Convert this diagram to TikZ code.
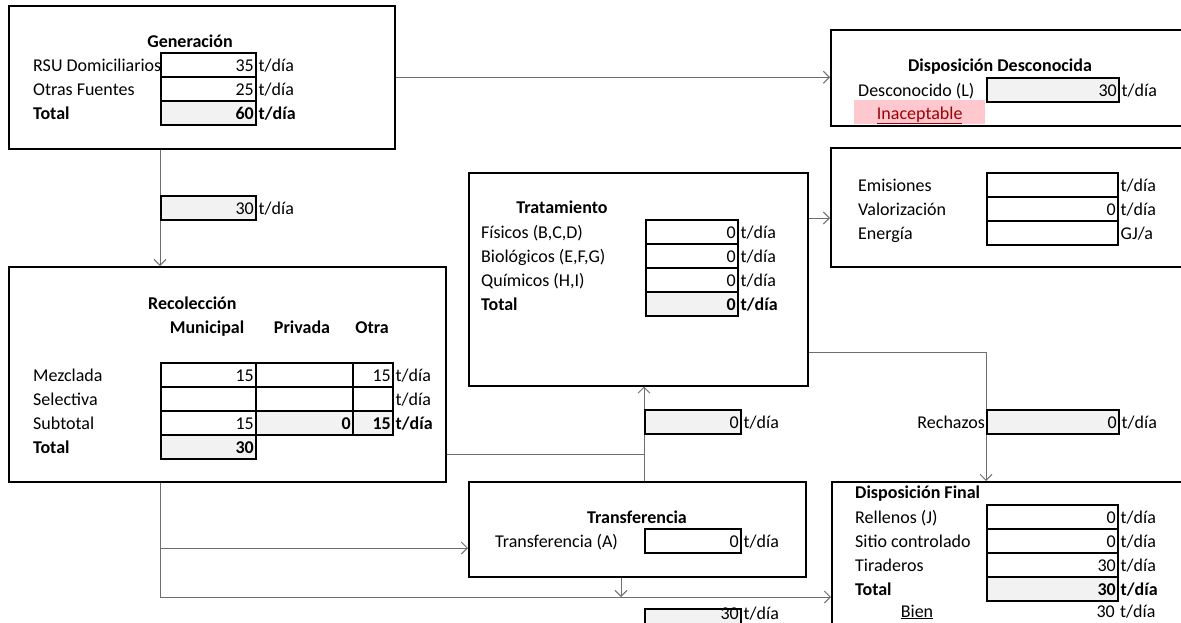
\documentclass[tikz,border=0pt]{standalone}
\usepackage{fontspec}
\setmainfont{Carlito}
\usetikzlibrary{arrows.meta,positioning}
\definecolor{cellgray}{RGB}{242,242,242}
\definecolor{badfill}{RGB}{255,199,206}
\definecolor{badtext}{RGB}{156,0,6}
\definecolor{flowgray}{RGB}{110,110,110}
\tikzset{
  panel/.style = {draw,line width=1.5pt,anchor=north west,inner sep=0pt},
  cell/.style  = {draw,line width=1.5pt,fill=white,anchor=north west,
                  minimum height=24pt,inner xsep=2pt,inner ysep=0pt,align=right},
  gcell/.style = {cell,fill=cellgray},
  lbl/.style   = {anchor=west,inner sep=0pt},
  unit/.style  = {inner sep=0pt},
  ttl/.style   = {font=\bfseries,inner sep=0pt},
  flow/.style  = {draw=flowgray,line width=0.9pt,-{Straight Barb[length=6pt,width=12pt]}},
  link/.style  = {draw=flowgray,line width=0.9pt},
}

\begin{document}
\fontsize{18}{21}\selectfont
\begin{tikzpicture}[x=1pt,y=-1pt,every node/.append style={text height=16pt,text depth=2pt}]
  \useasboundingbox (0,0) rectangle (1181,622);
  \clip (0,0) rectangle (1181,622);

  % boxes
  \node[panel,minimum width=386pt,minimum height=143pt] (gen) at (8,5) {};
  \node[panel,minimum width=370pt,minimum height=96pt] (desc) at (830,29) {};
  \node[panel,minimum width=370pt,minimum height=119pt] (emis) at (830,147) {};
  \node[panel,minimum width=339pt,minimum height=213pt] (trat) at (468,172) {};
  \node[panel,minimum width=437pt,minimum height=215pt] (reco) at (8,266) {};
  \node[panel,minimum width=337pt,minimum height=95pt] (transf) at (468,481) {};
  \node[panel,minimum width=370pt,minimum height=160pt] (final) at (831,481) {};

  % connectors
  \coordinate (spine) at (160,0);
  \coordinate (bus) at (0,597);
  \coordinate (branch) at (160,548);
  \coordinate (drop) at (621,597);
  \coordinate (rise) at (644,454);
  \coordinate (emisin) at (0,218);
  \coordinate (rej) at (986,352);
  \draw[flow] (gen.east) -- (gen.east -| desc.west);
  \draw[flow] (gen.south -| spine) -- (reco.north -| spine);
  \draw[flow] (reco.south -| spine) |- (final.west |- bus);
  \draw[flow] (branch) -- (transf.west |- branch);
  \draw[flow] (transf.south -| drop) -- (drop);
  \draw[link] (reco.east |- rise) -- (rise);
  \draw[flow] (transf.north -| rise) -- (trat.south -| rise);
  \draw[flow] (trat.east |- emisin) -- (emis.west |- emisin);
  \draw[flow] (trat.east |- rej) -- (rej) -- (final.north -| rej);

  % Generacion
  \node[ttl] at (190,40) {Generación};
  \node[lbl] at (33,64) {RSU Domiciliarios};
  \node[lbl] at (33,88) {Otras Fuentes};
  \node[lbl,font=\bfseries] at (33,112) {Total};
  \node[cell,text width=91pt] (grsu) at (160,52) {35};
  \node[cell,text width=91pt] (gotr) at (160,76) {25};
  \node[gcell,text width=91pt] (gtot) at (160,100) {\bfseries 60};
  \node[unit,right=2pt of grsu] {t/día};
  \node[unit,right=2pt of gotr] {t/día};
  \node[unit,right=2pt of gtot,font=\bfseries] {t/día};

  % flujo a recoleccion
  \node[gcell,text width=91pt] (fgen) at (160,195) {30};
  \node[unit,right=2pt of fgen] {t/día};

  % Disposicion desconocida
  \node[ttl] at (1000,64) {Disposición Desconocida};
  \node[lbl] at (858,89) {Desconocido (L)};
  \node[anchor=north west,fill=badfill,text=badtext,minimum width=131pt,
        minimum height=24pt,inner sep=0pt] (bad) at (854,100) {\underline{Inaceptable}};
  \node[gcell,text width=128pt] (dl) at (986,77) {30};
  \node[unit,right=2pt of dl] {t/día};

  % Emisiones
  \node[lbl] at (858,184) {Emisiones};
  \node[lbl] at (858,208) {Valorización};
  \node[lbl] at (858,232) {Energía};
  \node[cell,text width=127pt] (eem) at (986,172) {};
  \node[cell,text width=127pt] (eva) at (986,196) {0};
  \node[cell,text width=127pt] (een) at (986,220) {};
  \node[unit,right=2pt of eem] {t/día};
  \node[unit,right=2pt of eva] {t/día};
  \node[unit,right=2pt of een] {GJ/a};

  % Tratamiento
  \node[ttl] at (562,206) {Tratamiento};
  \node[lbl] at (481,231) {Físicos (B,C,D)};
  \node[lbl] at (481,255) {Biológicos (E,F,G)};
  \node[lbl] at (481,279) {Químicos (H,I)};
  \node[lbl,font=\bfseries] at (481,303) {Total};
  \node[cell,text width=88pt] (tfi) at (645,219) {0};
  \node[cell,text width=88pt] (tbi) at (645,243) {0};
  \node[cell,text width=88pt] (tqu) at (645,267) {0};
  \node[gcell,text width=88pt] (ttot) at (645,291) {\bfseries 0};
  \node[unit,right=2pt of tfi] {t/día};
  \node[unit,right=2pt of tbi] {t/día};
  \node[unit,right=2pt of tqu] {t/día};
  \node[unit,right=2pt of ttot,font=\bfseries] {t/día};

  % Recoleccion
  \node[ttl,anchor=west] at (148,302) {Recolección};
  \node[ttl] at (207,326) {Municipal};
  \node[ttl] at (302,326) {Privada};
  \node[ttl] at (372,326) {Otra};
  \node[lbl] at (33,374) {Mezclada};
  \node[lbl] at (33,398) {Selectiva};
  \node[lbl] at (33,422) {Subtotal};
  \node[lbl,font=\bfseries] at (33,446) {Total};
  \node[cell,text width=91pt] (rmm) at (160,362) {15};
  \node[cell,text width=93pt] (rmp) at (255,362) {};
  \node[cell,text width=36pt] (rmo) at (352,362) {15};
  \node[cell,text width=91pt] (rsm) at (160,386) {};
  \node[cell,text width=93pt] (rsp) at (255,386) {};
  \node[cell,text width=36pt] (rso) at (352,386) {};
  \node[cell,text width=91pt] (rtm) at (160,410) {15};
  \node[gcell,text width=93pt] (rtp) at (255,410) {\bfseries 0};
  \node[gcell,text width=36pt] (rto) at (352,410) {\bfseries 15};
  \node[gcell,text width=91pt] (rtot) at (160,434) {\bfseries 30};
  \node[unit,right=2pt of rmo] {t/día};
  \node[unit,right=2pt of rso] {t/día};
  \node[unit,right=2pt of rto,font=\bfseries] {t/día};

  % flujo a tratamiento y rechazos
  \node[gcell,text width=92pt] (ftr) at (644,409) {0};
  \node[unit,right=2pt of ftr] {t/día};
  \node[gcell,text width=128pt] (frej) at (986,409) {0};
  \node[unit,right=2pt of frej] {t/día};
  \node[anchor=east,inner sep=0pt] at (985,421) {Rechazos};

  % Transferencia
  \node[ttl] at (637,516) {Transferencia};
  \node[lbl] at (495,540) {Transferencia (A)};
  \node[cell,text width=92pt] (tra) at (644,528) {0};
  \node[unit,right=2pt of tra] {t/día};

  % flujo a disposicion final
  \node[gcell,text width=92pt,text height=11pt,text depth=8pt,minimum height=0pt] (fdis) at (644,608) {30};
  \node[unit,right=2pt of fdis,text height=11pt,text depth=8pt] {t/día};

  % Disposicion final
  \node[ttl,anchor=west] at (855,491) {Disposición Final};
  \node[lbl] at (855,516) {Rellenos (J)};
  \node[lbl] at (855,540) {Sitio controlado};
  \node[lbl] at (855,564) {Tiraderos};
  \node[lbl,font=\bfseries] at (855,588) {Total};
  \node[cell,text width=127pt] (frel) at (986,504) {0};
  \node[cell,text width=127pt] (fsit) at (986,528) {0};
  \node[cell,text width=127pt] (ftir) at (986,552) {30};
  \node[gcell,text width=127pt] (ftot) at (986,576) {\bfseries 30};
  \node[unit,right=2pt of frel] {t/día};
  \node[unit,right=2pt of fsit] {t/día};
  \node[unit,right=2pt of ftir] {t/día};
  \node[unit,right=2pt of ftot,font=\bfseries] {t/día};
  \node[inner sep=0pt] at (917,610) {\underline{Bien}};
  \node[anchor=east,inner sep=0pt] (bval) at (1115,610) {30};
  \node[unit,anchor=west] at (1120,610) {t/día};
\end{tikzpicture}
\end{document}
